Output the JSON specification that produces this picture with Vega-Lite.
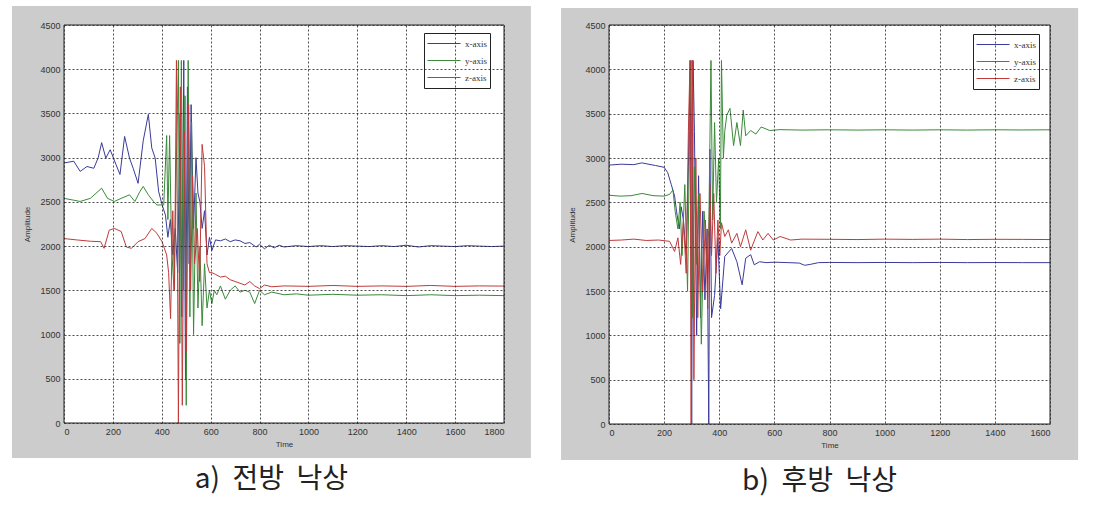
{
"$schema": "https://vega.github.io/schema/vega-lite/v6.json",
"background": "white",
"padding": {"left": 11, "top": 5, "right": 0, "bottom": 8},
"autosize": {"type": "pad"},
"spacing": 30,
"datasets": {
"a": [
{"t":0,"v":2940,"s":"x-axis"},{"t":20,"v":2950,"s":"x-axis"},{"t":40,"v":2960,"s":"x-axis"},{"t":66,"v":2845,"s":"x-axis"},{"t":94,"v":2900,"s":"x-axis"},{"t":122,"v":2880,"s":"x-axis"},{"t":140,"v":3000,"s":"x-axis"},{"t":154,"v":3170,"s":"x-axis"},{"t":171,"v":2995,"s":"x-axis"},{"t":189,"v":3090,"s":"x-axis"},{"t":213,"v":2920,"s":"x-axis"},{"t":229,"v":2810,"s":"x-axis"},{"t":248,"v":3240,"s":"x-axis"},{"t":268,"v":2995,"s":"x-axis"},{"t":283,"v":2880,"s":"x-axis"},{"t":303,"v":2710,"s":"x-axis"},{"t":324,"v":3190,"s":"x-axis"},{"t":345,"v":3490,"s":"x-axis"},{"t":359,"v":3110,"s":"x-axis"},{"t":373,"v":2995,"s":"x-axis"},{"t":387,"v":2620,"s":"x-axis"},{"t":401,"v":2470,"s":"x-axis"},{"t":415,"v":2350,"s":"x-axis"},{"t":425,"v":2100,"s":"x-axis"},{"t":435,"v":2300,"s":"x-axis"},{"t":445,"v":1900,"s":"x-axis"},{"t":455,"v":2200,"s":"x-axis"},{"t":465,"v":1700,"s":"x-axis"},{"t":475,"v":3500,"s":"x-axis"},{"t":482,"v":1200,"s":"x-axis"},{"t":490,"v":4100,"s":"x-axis"},{"t":497,"v":500,"s":"x-axis"},{"t":505,"v":3800,"s":"x-axis"},{"t":512,"v":1800,"s":"x-axis"},{"t":520,"v":3600,"s":"x-axis"},{"t":530,"v":2200,"s":"x-axis"},{"t":540,"v":3000,"s":"x-axis"},{"t":548,"v":2600,"s":"x-axis"},{"t":556,"v":2500,"s":"x-axis"},{"t":565,"v":2200,"s":"x-axis"},{"t":575,"v":2400,"s":"x-axis"},{"t":585,"v":1900,"s":"x-axis"},{"t":595,"v":2100,"s":"x-axis"},{"t":605,"v":1950,"s":"x-axis"},{"t":620,"v":2070,"s":"x-axis"},{"t":640,"v":2060,"s":"x-axis"},{"t":660,"v":2080,"s":"x-axis"},{"t":680,"v":2050,"s":"x-axis"},{"t":700,"v":2070,"s":"x-axis"},{"t":720,"v":2060,"s":"x-axis"},{"t":740,"v":2030,"s":"x-axis"},{"t":760,"v":2040,"s":"x-axis"},{"t":786,"v":1990,"s":"x-axis"},{"t":800,"v":2020,"s":"x-axis"},{"t":820,"v":1970,"s":"x-axis"},{"t":840,"v":2010,"s":"x-axis"},{"t":860,"v":1980,"s":"x-axis"},{"t":880,"v":2010,"s":"x-axis"},{"t":900,"v":1990,"s":"x-axis"},{"t":950,"v":2005,"s":"x-axis"},{"t":1000,"v":1995,"s":"x-axis"},{"t":1050,"v":2005,"s":"x-axis"},{"t":1100,"v":1995,"s":"x-axis"},{"t":1150,"v":2005,"s":"x-axis"},{"t":1200,"v":2000,"s":"x-axis"},{"t":1250,"v":1995,"s":"x-axis"},{"t":1300,"v":2005,"s":"x-axis"},{"t":1350,"v":1995,"s":"x-axis"},{"t":1400,"v":2010,"s":"x-axis"},{"t":1450,"v":1990,"s":"x-axis"},{"t":1500,"v":2005,"s":"x-axis"},{"t":1550,"v":2000,"s":"x-axis"},{"t":1600,"v":1995,"s":"x-axis"},{"t":1650,"v":2005,"s":"x-axis"},{"t":1700,"v":2000,"s":"x-axis"},{"t":1750,"v":1995,"s":"x-axis"},{"t":1800,"v":2000,"s":"x-axis"},
{"t":0,"v":2540,"s":"y-axis"},{"t":38,"v":2520,"s":"y-axis"},{"t":66,"v":2505,"s":"y-axis"},{"t":108,"v":2540,"s":"y-axis"},{"t":154,"v":2655,"s":"y-axis"},{"t":178,"v":2540,"s":"y-axis"},{"t":206,"v":2505,"s":"y-axis"},{"t":234,"v":2540,"s":"y-axis"},{"t":268,"v":2580,"s":"y-axis"},{"t":290,"v":2505,"s":"y-axis"},{"t":310,"v":2615,"s":"y-axis"},{"t":324,"v":2675,"s":"y-axis"},{"t":345,"v":2580,"s":"y-axis"},{"t":366,"v":2505,"s":"y-axis"},{"t":380,"v":2465,"s":"y-axis"},{"t":408,"v":2465,"s":"y-axis"},{"t":420,"v":3250,"s":"y-axis"},{"t":425,"v":2300,"s":"y-axis"},{"t":432,"v":3250,"s":"y-axis"},{"t":440,"v":2000,"s":"y-axis"},{"t":450,"v":1500,"s":"y-axis"},{"t":460,"v":3000,"s":"y-axis"},{"t":468,"v":4100,"s":"y-axis"},{"t":474,"v":900,"s":"y-axis"},{"t":480,"v":4100,"s":"y-axis"},{"t":488,"v":1500,"s":"y-axis"},{"t":495,"v":3700,"s":"y-axis"},{"t":500,"v":200,"s":"y-axis"},{"t":508,"v":4100,"s":"y-axis"},{"t":515,"v":1200,"s":"y-axis"},{"t":522,"v":3400,"s":"y-axis"},{"t":530,"v":1000,"s":"y-axis"},{"t":540,"v":2600,"s":"y-axis"},{"t":548,"v":1300,"s":"y-axis"},{"t":556,"v":2000,"s":"y-axis"},{"t":565,"v":1100,"s":"y-axis"},{"t":575,"v":1800,"s":"y-axis"},{"t":585,"v":1300,"s":"y-axis"},{"t":595,"v":1500,"s":"y-axis"},{"t":605,"v":1350,"s":"y-axis"},{"t":615,"v":1500,"s":"y-axis"},{"t":625,"v":1450,"s":"y-axis"},{"t":640,"v":1550,"s":"y-axis"},{"t":660,"v":1400,"s":"y-axis"},{"t":680,"v":1500,"s":"y-axis"},{"t":700,"v":1550,"s":"y-axis"},{"t":720,"v":1480,"s":"y-axis"},{"t":740,"v":1500,"s":"y-axis"},{"t":760,"v":1480,"s":"y-axis"},{"t":780,"v":1350,"s":"y-axis"},{"t":800,"v":1500,"s":"y-axis"},{"t":820,"v":1450,"s":"y-axis"},{"t":850,"v":1480,"s":"y-axis"},{"t":900,"v":1450,"s":"y-axis"},{"t":950,"v":1460,"s":"y-axis"},{"t":1000,"v":1445,"s":"y-axis"},{"t":1100,"v":1455,"s":"y-axis"},{"t":1200,"v":1445,"s":"y-axis"},{"t":1300,"v":1450,"s":"y-axis"},{"t":1400,"v":1440,"s":"y-axis"},{"t":1500,"v":1450,"s":"y-axis"},{"t":1600,"v":1440,"s":"y-axis"},{"t":1700,"v":1445,"s":"y-axis"},{"t":1800,"v":1440,"s":"y-axis"},
{"t":0,"v":2085,"s":"z-axis"},{"t":52,"v":2070,"s":"z-axis"},{"t":108,"v":2055,"s":"z-axis"},{"t":150,"v":2050,"s":"z-axis"},{"t":164,"v":1975,"s":"z-axis"},{"t":185,"v":2180,"s":"z-axis"},{"t":206,"v":2200,"s":"z-axis"},{"t":234,"v":2165,"s":"z-axis"},{"t":255,"v":1990,"s":"z-axis"},{"t":276,"v":1975,"s":"z-axis"},{"t":303,"v":2050,"s":"z-axis"},{"t":331,"v":2085,"s":"z-axis"},{"t":359,"v":2200,"s":"z-axis"},{"t":380,"v":2145,"s":"z-axis"},{"t":401,"v":2050,"s":"z-axis"},{"t":420,"v":1900,"s":"z-axis"},{"t":428,"v":1700,"s":"z-axis"},{"t":436,"v":1180,"s":"z-axis"},{"t":445,"v":2400,"s":"z-axis"},{"t":452,"v":1500,"s":"z-axis"},{"t":460,"v":4100,"s":"z-axis"},{"t":468,"v":0,"s":"z-axis"},{"t":476,"v":3800,"s":"z-axis"},{"t":484,"v":200,"s":"z-axis"},{"t":492,"v":3300,"s":"z-axis"},{"t":500,"v":800,"s":"z-axis"},{"t":510,"v":3600,"s":"z-axis"},{"t":518,"v":1500,"s":"z-axis"},{"t":526,"v":2800,"s":"z-axis"},{"t":534,"v":1800,"s":"z-axis"},{"t":545,"v":2200,"s":"z-axis"},{"t":555,"v":1600,"s":"z-axis"},{"t":565,"v":3150,"s":"z-axis"},{"t":575,"v":2900,"s":"z-axis"},{"t":585,"v":1800,"s":"z-axis"},{"t":595,"v":1700,"s":"z-axis"},{"t":605,"v":1700,"s":"z-axis"},{"t":620,"v":1680,"s":"z-axis"},{"t":640,"v":1650,"s":"z-axis"},{"t":660,"v":1660,"s":"z-axis"},{"t":680,"v":1620,"s":"z-axis"},{"t":700,"v":1600,"s":"z-axis"},{"t":720,"v":1580,"s":"z-axis"},{"t":740,"v":1560,"s":"z-axis"},{"t":760,"v":1600,"s":"z-axis"},{"t":780,"v":1550,"s":"z-axis"},{"t":800,"v":1520,"s":"z-axis"},{"t":820,"v":1560,"s":"z-axis"},{"t":850,"v":1540,"s":"z-axis"},{"t":900,"v":1550,"s":"z-axis"},{"t":1000,"v":1545,"s":"z-axis"},{"t":1100,"v":1555,"s":"z-axis"},{"t":1200,"v":1545,"s":"z-axis"},{"t":1300,"v":1550,"s":"z-axis"},{"t":1400,"v":1545,"s":"z-axis"},{"t":1500,"v":1555,"s":"z-axis"},{"t":1600,"v":1545,"s":"z-axis"},{"t":1700,"v":1550,"s":"z-axis"},{"t":1800,"v":1548,"s":"z-axis"}
],
"b": [
{"t":0,"v":2920,"s":"x-axis"},{"t":44,"v":2930,"s":"x-axis"},{"t":90,"v":2925,"s":"x-axis"},{"t":119,"v":2945,"s":"x-axis"},{"t":169,"v":2915,"s":"x-axis"},{"t":200,"v":2895,"s":"x-axis"},{"t":213,"v":2835,"s":"x-axis"},{"t":226,"v":2700,"s":"x-axis"},{"t":238,"v":2570,"s":"x-axis"},{"t":245,"v":2400,"s":"x-axis"},{"t":255,"v":2200,"s":"x-axis"},{"t":262,"v":2450,"s":"x-axis"},{"t":270,"v":2300,"s":"x-axis"},{"t":280,"v":1900,"s":"x-axis"},{"t":288,"v":2900,"s":"x-axis"},{"t":295,"v":4100,"s":"x-axis"},{"t":300,"v":0,"s":"x-axis"},{"t":305,"v":4100,"s":"x-axis"},{"t":310,"v":3300,"s":"x-axis"},{"t":318,"v":1000,"s":"x-axis"},{"t":325,"v":2800,"s":"x-axis"},{"t":332,"v":1200,"s":"x-axis"},{"t":340,"v":2400,"s":"x-axis"},{"t":348,"v":1400,"s":"x-axis"},{"t":356,"v":2200,"s":"x-axis"},{"t":362,"v":0,"s":"x-axis"},{"t":366,"v":3100,"s":"x-axis"},{"t":372,"v":1200,"s":"x-axis"},{"t":383,"v":1450,"s":"x-axis"},{"t":395,"v":2100,"s":"x-axis"},{"t":405,"v":1300,"s":"x-axis"},{"t":420,"v":1890,"s":"x-axis"},{"t":445,"v":1980,"s":"x-axis"},{"t":464,"v":1830,"s":"x-axis"},{"t":483,"v":1570,"s":"x-axis"},{"t":496,"v":1870,"s":"x-axis"},{"t":514,"v":1910,"s":"x-axis"},{"t":527,"v":1795,"s":"x-axis"},{"t":546,"v":1830,"s":"x-axis"},{"t":570,"v":1820,"s":"x-axis"},{"t":600,"v":1825,"s":"x-axis"},{"t":650,"v":1820,"s":"x-axis"},{"t":690,"v":1815,"s":"x-axis"},{"t":710,"v":1790,"s":"x-axis"},{"t":730,"v":1800,"s":"x-axis"},{"t":760,"v":1820,"s":"x-axis"},{"t":800,"v":1822,"s":"x-axis"},{"t":900,"v":1820,"s":"x-axis"},{"t":1000,"v":1822,"s":"x-axis"},{"t":1100,"v":1820,"s":"x-axis"},{"t":1200,"v":1822,"s":"x-axis"},{"t":1300,"v":1820,"s":"x-axis"},{"t":1400,"v":1821,"s":"x-axis"},{"t":1500,"v":1820,"s":"x-axis"},{"t":1600,"v":1820,"s":"x-axis"},
{"t":0,"v":2580,"s":"y-axis"},{"t":40,"v":2570,"s":"y-axis"},{"t":80,"v":2575,"s":"y-axis"},{"t":120,"v":2600,"s":"y-axis"},{"t":160,"v":2575,"s":"y-axis"},{"t":200,"v":2570,"s":"y-axis"},{"t":220,"v":2590,"s":"y-axis"},{"t":232,"v":2640,"s":"y-axis"},{"t":240,"v":2400,"s":"y-axis"},{"t":250,"v":2200,"s":"y-axis"},{"t":258,"v":2500,"s":"y-axis"},{"t":265,"v":1900,"s":"y-axis"},{"t":275,"v":2700,"s":"y-axis"},{"t":285,"v":1500,"s":"y-axis"},{"t":292,"v":3200,"s":"y-axis"},{"t":298,"v":4100,"s":"y-axis"},{"t":303,"v":1200,"s":"y-axis"},{"t":310,"v":2900,"s":"y-axis"},{"t":318,"v":1800,"s":"y-axis"},{"t":325,"v":2600,"s":"y-axis"},{"t":335,"v":900,"s":"y-axis"},{"t":345,"v":2400,"s":"y-axis"},{"t":355,"v":1800,"s":"y-axis"},{"t":362,"v":2200,"s":"y-axis"},{"t":370,"v":4100,"s":"y-axis"},{"t":376,"v":2300,"s":"y-axis"},{"t":383,"v":3400,"s":"y-axis"},{"t":390,"v":2500,"s":"y-axis"},{"t":398,"v":3000,"s":"y-axis"},{"t":404,"v":2200,"s":"y-axis"},{"t":408,"v":4100,"s":"y-axis"},{"t":415,"v":3000,"s":"y-axis"},{"t":420,"v":3300,"s":"y-axis"},{"t":427,"v":3480,"s":"y-axis"},{"t":439,"v":3560,"s":"y-axis"},{"t":452,"v":3140,"s":"y-axis"},{"t":464,"v":3400,"s":"y-axis"},{"t":477,"v":3140,"s":"y-axis"},{"t":487,"v":3540,"s":"y-axis"},{"t":496,"v":3250,"s":"y-axis"},{"t":514,"v":3310,"s":"y-axis"},{"t":533,"v":3270,"s":"y-axis"},{"t":552,"v":3350,"s":"y-axis"},{"t":583,"v":3310,"s":"y-axis"},{"t":620,"v":3320,"s":"y-axis"},{"t":700,"v":3315,"s":"y-axis"},{"t":800,"v":3318,"s":"y-axis"},{"t":900,"v":3315,"s":"y-axis"},{"t":1000,"v":3318,"s":"y-axis"},{"t":1100,"v":3315,"s":"y-axis"},{"t":1200,"v":3318,"s":"y-axis"},{"t":1300,"v":3315,"s":"y-axis"},{"t":1400,"v":3318,"s":"y-axis"},{"t":1500,"v":3316,"s":"y-axis"},{"t":1600,"v":3318,"s":"y-axis"},
{"t":0,"v":2070,"s":"z-axis"},{"t":45,"v":2075,"s":"z-axis"},{"t":90,"v":2085,"s":"z-axis"},{"t":135,"v":2070,"s":"z-axis"},{"t":180,"v":2075,"s":"z-axis"},{"t":220,"v":2060,"s":"z-axis"},{"t":238,"v":1945,"s":"z-axis"},{"t":250,"v":2100,"s":"z-axis"},{"t":260,"v":1800,"s":"z-axis"},{"t":270,"v":2300,"s":"z-axis"},{"t":280,"v":1700,"s":"z-axis"},{"t":288,"v":3300,"s":"z-axis"},{"t":294,"v":4100,"s":"z-axis"},{"t":298,"v":0,"s":"z-axis"},{"t":303,"v":4100,"s":"z-axis"},{"t":308,"v":500,"s":"z-axis"},{"t":315,"v":3000,"s":"z-axis"},{"t":322,"v":1200,"s":"z-axis"},{"t":330,"v":2600,"s":"z-axis"},{"t":340,"v":1500,"s":"z-axis"},{"t":350,"v":2300,"s":"z-axis"},{"t":358,"v":1300,"s":"z-axis"},{"t":366,"v":2700,"s":"z-axis"},{"t":372,"v":1900,"s":"z-axis"},{"t":380,"v":2600,"s":"z-axis"},{"t":388,"v":1700,"s":"z-axis"},{"t":395,"v":2300,"s":"z-axis"},{"t":402,"v":1900,"s":"z-axis"},{"t":408,"v":2270,"s":"z-axis"},{"t":420,"v":2115,"s":"z-axis"},{"t":433,"v":2190,"s":"z-axis"},{"t":445,"v":2040,"s":"z-axis"},{"t":464,"v":2150,"s":"z-axis"},{"t":477,"v":2000,"s":"z-axis"},{"t":496,"v":2190,"s":"z-axis"},{"t":514,"v":1960,"s":"z-axis"},{"t":540,"v":2170,"s":"z-axis"},{"t":558,"v":2075,"s":"z-axis"},{"t":577,"v":2150,"s":"z-axis"},{"t":596,"v":2075,"s":"z-axis"},{"t":621,"v":2115,"s":"z-axis"},{"t":659,"v":2075,"s":"z-axis"},{"t":700,"v":2085,"s":"z-axis"},{"t":800,"v":2083,"s":"z-axis"},{"t":900,"v":2080,"s":"z-axis"},{"t":1000,"v":2085,"s":"z-axis"},{"t":1100,"v":2082,"s":"z-axis"},{"t":1200,"v":2085,"s":"z-axis"},{"t":1300,"v":2080,"s":"z-axis"},{"t":1400,"v":2083,"s":"z-axis"},{"t":1500,"v":2082,"s":"z-axis"},{"t":1600,"v":2080,"s":"z-axis"}
]
},
"config": {
"view": {"stroke": null, "fill": "white"},
"axis": {"grid": true, "domain": false, "ticks": false, "labelFont": "Liberation Sans", "labelFontSize": 9, "labelColor": "#333", "labelPadding": 4, "titleFont": "Liberation Sans", "titleFontSize": 8, "titleFontWeight": "normal", "titleColor": "#333", "gridColor": "#222", "gridDash": [2, 2], "gridWidth": 1, "gridOpacity": 0.8},
"legend": {"orient": "none", "strokeColor": "#222", "fillColor": "white", "padding": 3, "symbolType": "stroke", "symbolSize": 1089, "symbolStrokeWidth": 1, "labelFont": "Liberation Serif", "labelFontSize": 9, "labelColor": "#333", "rowPadding": 2, "clipHeight": 15, "cornerRadius": 0},
"title": {"orient": "bottom", "font": "Noto Sans CJK KR", "fontSize": 28, "fontWeight": "normal", "color": "#222", "anchor": "middle", "frame": "bounds", "offset": 8}
},
"resolve": {"scale": {"color": "independent"}, "legend": {"color": "independent"}},
"hconcat": [
{
"width": 440, "height": 398,
"title": {"text": "a)\u00a0 전방\u00a0 낙상"},
"layer": [
{"data": {"values": [{}]}, "mark": {"type": "rect", "fill": "#cccccc", "clip": false},
 "encoding": {"x": {"datum": -213, "type": "quantitative", "scale": {"domain": [0, 1800], "nice": false, "zero": false}, "axis": {"title": "Time", "grid": true, "zindex": 1, "format": "d", "values": [0,200,400,600,800,1000,1200,1400,1600,1800], "titlePadding": 4}}, "x2": {"datum": 0}, "y": {"datum": -396, "type": "quantitative", "scale": {"domain": [0, 4500], "nice": false, "zero": false}, "axis": {"title": "Amplitude", "grid": true, "zindex": 1, "format": "d", "values": [0,500,1000,1500,2000,2500,3000,3500,4000,4500], "titlePadding": 8}}, "y2": {"datum": 4715}}},
{"data": {"values": [{}]}, "mark": {"type": "rect", "fill": "#cccccc", "clip": false},
 "encoding": {"x": {"datum": 1800, "type": "quantitative", "axis": {"title": "Time", "grid": true, "zindex": 1, "format": "d", "values": [0,200,400,600,800,1000,1200,1400,1600,1800], "titlePadding": 4}}, "x2": {"datum": 1910}, "y": {"datum": -396, "type": "quantitative", "axis": {"title": "Amplitude", "grid": true, "zindex": 1, "format": "d", "values": [0,500,1000,1500,2000,2500,3000,3500,4000,4500], "titlePadding": 8}}, "y2": {"datum": 4715}}},
{"data": {"values": [{}]}, "mark": {"type": "rect", "fill": "#cccccc", "clip": false},
 "encoding": {"x": {"datum": 0, "type": "quantitative", "axis": {"title": "Time", "grid": true, "zindex": 1, "format": "d", "values": [0,200,400,600,800,1000,1200,1400,1600,1800], "titlePadding": 4}}, "x2": {"datum": 1800}, "y": {"datum": 4500, "type": "quantitative", "axis": {"title": "Amplitude", "grid": true, "zindex": 1, "format": "d", "values": [0,500,1000,1500,2000,2500,3000,3500,4000,4500], "titlePadding": 8}}, "y2": {"datum": 4715}}},
{"data": {"values": [{}]}, "mark": {"type": "rect", "fill": "#cccccc", "clip": false},
 "encoding": {"x": {"datum": 0, "type": "quantitative", "axis": {"title": "Time", "grid": true, "zindex": 1, "format": "d", "values": [0,200,400,600,800,1000,1200,1400,1600,1800], "titlePadding": 4}}, "x2": {"datum": 1800}, "y": {"datum": -396, "type": "quantitative", "axis": {"title": "Amplitude", "grid": true, "zindex": 1, "format": "d", "values": [0,500,1000,1500,2000,2500,3000,3500,4000,4500], "titlePadding": 8}}, "y2": {"datum": 0}}},
{"data": {"name": "a"}, "mark": {"type": "line", "strokeWidth": 1, "clip": true},
 "encoding": {
 "x": {"field": "t", "type": "quantitative", "scale": {"domain": [0, 1800], "nice": false, "zero": false}, "axis": {"title": "Time", "grid": true, "zindex": 1, "format": "d", "values": [0,200,400,600,800,1000,1200,1400,1600,1800], "titlePadding": 4}},
 "y": {"field": "v", "type": "quantitative", "scale": {"domain": [0, 4500], "nice": false, "zero": false}, "axis": {"title": "Amplitude", "grid": true, "zindex": 1, "format": "d", "values": [0,500,1000,1500,2000,2500,3000,3500,4000,4500], "titlePadding": 8}},
 "color": {"field": "s", "type": "nominal", "scale": {"domain": ["x-axis", "y-axis", "z-axis"], "range": ["#3b3b9b", "#3a8a3a", "#c03a3a"]}, "legend": {"title": null, "legendX": 360, "legendY": 8}},
 "order": {"field": "t", "type": "quantitative"}
 }},
{"data": {"values": [{}]}, "mark": {"type": "rect", "fill": "white", "fillOpacity": 0, "stroke": "#222", "strokeWidth": 1, "clip": false},
 "encoding": {"x": {"datum": 0, "type": "quantitative", "axis": {"title": "Time", "grid": true, "zindex": 1, "format": "d", "values": [0,200,400,600,800,1000,1200,1400,1600,1800], "titlePadding": 4}}, "x2": {"datum": 1800}, "y": {"datum": 0, "type": "quantitative", "axis": {"title": "Amplitude", "grid": true, "zindex": 1, "format": "d", "values": [0,500,1000,1500,2000,2500,3000,3500,4000,4500], "titlePadding": 8}}, "y2": {"datum": 4500}}}
]
},
{
"width": 441, "height": 399,
"title": {"text": "b)\u00a0 후방\u00a0 낙상"},
"layer": [
{"data": {"values": [{}]}, "mark": {"type": "rect", "fill": "#cccccc", "clip": false},
 "encoding": {"x": {"datum": -174, "type": "quantitative", "scale": {"domain": [0, 1600], "nice": false, "zero": false}, "axis": {"title": "Time", "grid": true, "zindex": 1, "format": "d", "values": [0,200,400,600,800,1000,1200,1400,1600], "titlePadding": 4}}, "x2": {"datum": 0}, "y": {"datum": -406, "type": "quantitative", "scale": {"domain": [0, 4500], "nice": false, "zero": false}, "axis": {"title": "Amplitude", "grid": true, "zindex": 1, "format": "d", "values": [0,500,1000,1500,2000,2500,3000,3500,4000,4500], "titlePadding": 8}}, "y2": {"datum": 4692}}},
{"data": {"values": [{}]}, "mark": {"type": "rect", "fill": "#cccccc", "clip": false},
 "encoding": {"x": {"datum": 1600, "type": "quantitative", "axis": {"title": "Time", "grid": true, "zindex": 1, "format": "d", "values": [0,200,400,600,800,1000,1200,1400,1600], "titlePadding": 4}}, "x2": {"datum": 1702}, "y": {"datum": -406, "type": "quantitative", "axis": {"title": "Amplitude", "grid": true, "zindex": 1, "format": "d", "values": [0,500,1000,1500,2000,2500,3000,3500,4000,4500], "titlePadding": 8}}, "y2": {"datum": 4692}}},
{"data": {"values": [{}]}, "mark": {"type": "rect", "fill": "#cccccc", "clip": false},
 "encoding": {"x": {"datum": 0, "type": "quantitative", "axis": {"title": "Time", "grid": true, "zindex": 1, "format": "d", "values": [0,200,400,600,800,1000,1200,1400,1600], "titlePadding": 4}}, "x2": {"datum": 1600}, "y": {"datum": 4500, "type": "quantitative", "axis": {"title": "Amplitude", "grid": true, "zindex": 1, "format": "d", "values": [0,500,1000,1500,2000,2500,3000,3500,4000,4500], "titlePadding": 8}}, "y2": {"datum": 4692}}},
{"data": {"values": [{}]}, "mark": {"type": "rect", "fill": "#cccccc", "clip": false},
 "encoding": {"x": {"datum": 0, "type": "quantitative", "axis": {"title": "Time", "grid": true, "zindex": 1, "format": "d", "values": [0,200,400,600,800,1000,1200,1400,1600], "titlePadding": 4}}, "x2": {"datum": 1600}, "y": {"datum": -406, "type": "quantitative", "axis": {"title": "Amplitude", "grid": true, "zindex": 1, "format": "d", "values": [0,500,1000,1500,2000,2500,3000,3500,4000,4500], "titlePadding": 8}}, "y2": {"datum": 0}}},
{"data": {"name": "b"}, "mark": {"type": "line", "strokeWidth": 1, "clip": true},
 "encoding": {
 "x": {"field": "t", "type": "quantitative", "scale": {"domain": [0, 1600], "nice": false, "zero": false}, "axis": {"title": "Time", "grid": true, "zindex": 1, "format": "d", "values": [0,200,400,600,800,1000,1200,1400,1600], "titlePadding": 4}},
 "y": {"field": "v", "type": "quantitative", "scale": {"domain": [0, 4500], "nice": false, "zero": false}, "axis": {"title": "Amplitude", "grid": true, "zindex": 1, "format": "d", "values": [0,500,1000,1500,2000,2500,3000,3500,4000,4500], "titlePadding": 8}},
 "color": {"field": "s", "type": "nominal", "scale": {"domain": ["x-axis", "y-axis", "z-axis"], "range": ["#3b3b9b", "#3a8a3a", "#c03a3a"]}, "legend": {"title": null, "legendX": 364, "legendY": 9}},
 "order": {"field": "t", "type": "quantitative"}
 }},
{"data": {"values": [{}]}, "mark": {"type": "rect", "fill": "white", "fillOpacity": 0, "stroke": "#222", "strokeWidth": 1, "clip": false},
 "encoding": {"x": {"datum": 0, "type": "quantitative", "axis": {"title": "Time", "grid": true, "zindex": 1, "format": "d", "values": [0,200,400,600,800,1000,1200,1400,1600], "titlePadding": 4}}, "x2": {"datum": 1600}, "y": {"datum": 0, "type": "quantitative", "axis": {"title": "Amplitude", "grid": true, "zindex": 1, "format": "d", "values": [0,500,1000,1500,2000,2500,3000,3500,4000,4500], "titlePadding": 8}}, "y2": {"datum": 4500}}}
]
}
]
}
